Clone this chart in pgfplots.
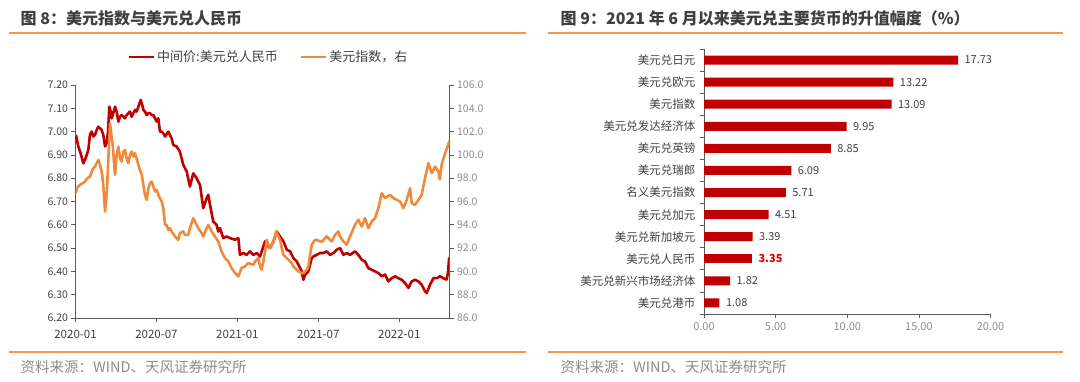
\documentclass[border=0pt]{standalone}
\usepackage{fontspec}
\setmainfont{Noto Sans CJK SC}
\usepackage{pgfplots}
\pgfplotsset{compat=1.18}
\definecolor{cnred}{HTML}{C00000}
\definecolor{cnorange}{HTML}{EF8A3C}
\definecolor{hdr}{HTML}{F5964F}
\definecolor{ttl}{HTML}{3F3F3F}
\definecolor{txt}{HTML}{404040}
\definecolor{gry}{HTML}{8C8C8C}
\definecolor{axl}{HTML}{595959}
\begin{document}
\begin{tikzpicture}
\begin{scope}[x=1pt,y=1pt]
\useasboundingbox (0,0) rectangle (1080,-381);
\node[anchor=west,inner sep=0,text=ttl,font=\fontsize{16}{16}\selectfont\bfseries] at (20.5,-18) {图 8：美元指数与美元兑人民币};
\node[anchor=west,inner sep=0,text=ttl,font=\fontsize{16}{16}\selectfont\bfseries] at (560.5,-18) {图 9：2021 年 6 月以来美元兑主要货币的升值幅度（\%）};
\draw[hdr,line width=1.2] (9,-33) -- (526,-33);
\draw[hdr,line width=1.2] (548,-33) -- (1063,-33);
\draw[hdr,line width=1.2] (9,-352) -- (526,-352);
\draw[hdr,line width=1.2] (548,-352) -- (1063,-352);
\node[anchor=west,inner sep=0,text=gry,font=\fontsize{14.5}{14.5}\selectfont] at (20.5,-367) {资料来源：WIND、天风证券研究所};
\node[anchor=west,inner sep=0,text=gry,font=\fontsize{14.5}{14.5}\selectfont] at (560.5,-367) {资料来源：WIND、天风证券研究所};
\end{scope}

% ---------- left chart ----------
\begin{axis}[at={(75.5pt,-318pt)},anchor=south west,width=374.1pt,height=233pt,scale only axis,
  xmin=0,xmax=27.73,ymin=6.2,ymax=7.2,
  axis x line*=bottom,axis y line*=left,
  axis line style={-,axl,line width=1pt},
  xtick={0,6,12,18,24},xticklabels={2020-01,2020-07,2021-01,2021-07,2022-01},
  ytick={6.2,6.3,6.4,6.5,6.6,6.7,6.8,6.9,7.0,7.1,7.2},
  yticklabel style={/pgf/number format/fixed,/pgf/number format/fixed zerofill,/pgf/number format/precision=2},
  /pgf/number format/assume math mode=true,
  tick align=outside,major tick length=4pt,
  tick style={axl,line width=0.8pt},
  yticklabel style={font=\fontsize{10.5}{10.5}\selectfont,text=txt},
  xticklabel style={font=\fontsize{11.5}{11.5}\selectfont,text=txt,yshift=-5pt},
]
\addplot[cnred,line width=2.6pt,line join=round] coordinates {
(0.03,6.986)(0.21,6.936)(0.38,6.907)(0.58,6.864)(0.70,6.879)(0.83,6.900)(0.95,6.921)(1.07,6.986)(1.20,7.000)(1.32,6.979)(1.45,6.986)(1.57,7.007)(1.69,7.021)(1.82,7.014)(1.94,7.007)(2.06,6.986)(2.19,6.936)(2.31,6.950)(2.41,7.000)(2.51,7.107)(2.61,7.086)(2.68,7.057)(2.80,7.079)(2.93,7.107)(3.05,7.086)(3.18,7.043)(3.30,7.064)(3.42,7.071)(3.55,7.064)(3.67,7.057)(3.79,7.071)(3.92,7.079)(4.04,7.086)(4.16,7.064)(4.29,7.079)(4.41,7.093)(4.53,7.086)(4.66,7.107)(4.83,7.136)(4.95,7.114)(5.03,7.093)(5.15,7.086)(5.28,7.071)(5.40,7.079)(5.52,7.079)(5.65,7.071)(5.77,7.071)(5.89,7.057)(6.02,7.043)(6.14,7.057)(6.26,7.000)(6.39,7.000)(6.51,6.993)(6.64,6.979)(6.88,7.000)(7.12,6.971)(7.25,6.943)(7.50,6.936)(7.74,6.914)(7.99,6.857)(8.24,6.829)(8.48,6.764)(8.73,6.821)(8.98,6.800)(9.23,6.771)(9.47,6.671)(9.72,6.714)(9.84,6.729)(9.97,6.686)(10.21,6.614)(10.46,6.600)(10.58,6.571)(10.71,6.586)(10.95,6.543)(11.20,6.550)(11.45,6.543)(11.82,6.536)(12.07,6.543)(12.19,6.471)(12.44,6.479)(12.68,6.471)(12.93,6.486)(13.18,6.471)(13.43,6.479)(13.68,6.464)(14.05,6.529)(14.18,6.514)(14.42,6.500)(14.67,6.529)(14.92,6.571)(15.16,6.550)(15.41,6.529)(15.66,6.493)(15.91,6.486)(16.15,6.457)(16.40,6.443)(16.65,6.414)(16.77,6.400)(16.89,6.364)(17.02,6.386)(17.26,6.400)(17.51,6.457)(17.63,6.464)(17.88,6.471)(18.13,6.479)(18.38,6.479)(18.62,6.486)(18.87,6.471)(19.12,6.479)(19.36,6.493)(19.61,6.500)(19.86,6.471)(20.10,6.479)(20.35,6.471)(20.72,6.486)(20.97,6.471)(21.22,6.450)(21.46,6.443)(21.71,6.414)(21.96,6.407)(22.20,6.400)(22.45,6.393)(22.70,6.379)(22.95,6.386)(23.19,6.357)(23.44,6.371)(23.69,6.379)(23.93,6.371)(24.18,6.364)(24.43,6.350)(24.68,6.329)(24.92,6.357)(25.17,6.364)(25.42,6.357)(25.66,6.343)(25.91,6.314)(26.03,6.307)(26.28,6.343)(26.53,6.371)(26.78,6.371)(27.02,6.379)(27.30,6.370)(27.50,6.365)(27.60,6.390)(27.70,6.460)
};
\end{axis}
\begin{axis}[at={(75.5pt,-318pt)},anchor=south west,width=374.1pt,height=233pt,scale only axis,
  xmin=0,xmax=27.73,ymin=86,ymax=106,
  axis x line=none,axis y line*=right,
  axis line style={-,axl,line width=1pt},
  ytick={86,88,90,92,94,96,98,100,102,104,106},
  yticklabel style={/pgf/number format/fixed,/pgf/number format/fixed zerofill,/pgf/number format/precision=1},
  /pgf/number format/assume math mode=true,
  tick align=outside,major tick length=4pt,
  tick style={axl,line width=0.8pt},
  yticklabel style={font=\fontsize{10.5}{10.5}\selectfont,text=gry},
  legend style={at={(0.516,1.12)},anchor=center,draw=none,fill=none,
    legend columns=2,font=\fontsize{13}{13}\selectfont,text=txt,
    /tikz/every even column/.append style={column sep=20pt}},
  legend image code/.code={\draw[#1] (0pt,0pt) -- (25pt,0pt);},
]
\addlegendimage{cnred,line width=2.6pt}
\addlegendentry{中间价:美元兑人民币}
\addplot[cnorange,line width=2.6pt,line join=round] coordinates {
(0.03,96.71)(0.09,97.14)(0.33,97.43)(0.53,97.57)(0.70,97.71)(0.88,98.00)(1.07,98.14)(1.20,98.57)(1.32,98.86)(1.45,99.00)(1.57,99.29)(1.69,99.57)(1.82,99.14)(1.94,98.57)(2.06,97.43)(2.19,95.14)(2.31,96.57)(2.36,97.71)(2.46,100.29)(2.56,102.71)(2.66,101.71)(2.76,100.86)(2.85,99.43)(2.93,98.29)(3.05,100.00)(3.18,100.71)(3.30,99.71)(3.42,99.43)(3.55,100.29)(3.67,100.43)(3.79,99.71)(3.92,99.29)(4.04,100.00)(4.16,100.29)(4.29,99.86)(4.41,100.14)(4.53,99.71)(4.66,99.14)(4.78,98.71)(4.91,98.29)(5.03,97.43)(5.15,96.57)(5.28,96.14)(5.40,97.14)(5.52,97.57)(5.65,97.71)(5.77,97.29)(5.89,96.86)(6.02,97.00)(6.14,96.57)(6.26,96.29)(6.39,96.00)(6.51,95.43)(6.64,94.00)(6.75,94.00)(6.88,93.57)(7.00,93.71)(7.12,93.43)(7.37,93.00)(7.62,92.71)(7.74,93.29)(7.99,93.43)(8.11,93.14)(8.36,93.14)(8.48,93.71)(8.73,94.57)(8.85,94.29)(9.10,93.71)(9.35,93.29)(9.47,93.00)(9.72,93.71)(9.84,94.00)(10.09,93.43)(10.34,93.00)(10.58,92.57)(10.83,91.71)(11.08,91.14)(11.33,90.86)(11.57,90.29)(11.82,89.86)(12.07,89.57)(12.31,90.29)(12.56,90.43)(12.81,90.71)(13.19,90.57)(13.31,90.86)(13.56,91.14)(13.68,90.43)(13.80,90.14)(13.93,90.86)(14.05,91.71)(14.18,92.71)(14.30,92.29)(14.42,92.00)(14.67,92.57)(14.87,93.43)(15.04,93.00)(15.16,92.71)(15.29,92.00)(15.41,91.43)(15.66,91.14)(15.78,91.00)(16.03,90.71)(16.15,90.43)(16.40,90.14)(16.52,90.00)(16.77,89.86)(16.89,89.86)(17.02,90.00)(17.14,90.14)(17.26,90.43)(17.39,91.43)(17.51,92.29)(17.76,92.71)(17.88,92.71)(18.13,92.57)(18.25,92.57)(18.50,92.86)(18.62,93.00)(18.87,92.71)(18.99,92.57)(19.24,93.14)(19.49,93.43)(19.61,93.00)(19.86,92.57)(20.10,92.29)(20.35,93.00)(20.72,94.00)(20.97,94.43)(21.22,93.86)(21.46,94.57)(21.71,93.71)(21.96,94.29)(22.20,94.57)(22.45,95.43)(22.70,96.71)(22.95,96.29)(23.32,96.57)(23.56,96.29)(23.81,96.14)(24.06,96.00)(24.31,95.43)(24.55,96.14)(24.80,97.14)(24.92,95.86)(25.17,95.71)(25.42,96.14)(25.66,96.57)(25.91,98.00)(26.16,99.29)(26.41,98.43)(26.65,99.00)(26.90,98.57)(27.00,97.90)(27.15,99.20)(27.30,99.80)(27.45,100.30)(27.60,100.80)(27.72,101.20)
};
\addlegendentry{美元指数，右}
\end{axis}

% ---------- right chart ----------
\begin{axis}[at={(704pt,-314pt)},anchor=south west,width=286.6pt,height=265pt,scale only axis,
  xbar,bar width=9pt,bar shift=0pt,
  xmin=0,xmax=20,ymin=-0.5,ymax=11.5,y dir=reverse,
  axis x line*=bottom,axis y line*=left,
  axis line style={-,axl,line width=1pt},
  xtick={0,5,10,15,20},
  xticklabel style={/pgf/number format/fixed,/pgf/number format/fixed zerofill,/pgf/number format/precision=2},
  /pgf/number format/assume math mode=true,
  xticklabel style={font=\fontsize{11}{11}\selectfont,text=gry,yshift=-1pt},
  ytick={-0.5,0.5,1.5,2.5,3.5,4.5,5.5,6.5,7.5,8.5,9.5,10.5,11.5},
  yticklabels={},
  extra y ticks={0,1,2,3,4,5,6,7,8,9,10,11},
  extra y tick labels={美元兑日元,美元兑欧元,美元指数,美元兑发达经济体,美元兑英镑,美元兑瑞郎,名义美元指数,美元兑加元,美元兑新加坡元,美元兑人民币,美元兑新兴市场经济体,美元兑港币},
  extra y tick style={major tick length=0pt,
    yticklabel style={font=\fontsize{11.5}{11.5}\selectfont,text=txt,xshift=-5pt}},
  tick align=outside,major tick length=4pt,
  tick style={axl,line width=0.8pt},
  nodes near coords={\pgfmathprintnumber[fixed,fixed zerofill,precision=2,assume math mode=true]{\pgfplotspointmeta}},
  every node near coord/.append style={font=\fontsize{11}{11}\selectfont,text=txt,anchor=west,xshift=3pt},
]
\addplot[fill=cnred,draw=none] coordinates {(17.73,0)(13.22,1)(13.09,2)(9.95,3)(8.85,4)(6.09,5)(5.71,6)(4.51,7)(3.39,8)(1.82,10)(1.08,11)};
\addplot[fill=cnred,draw=none,every node near coord/.append style={text=red!90!black,font=\fontsize{11}{11}\selectfont\bfseries}] coordinates {(3.35,9)};
\end{axis}
\end{tikzpicture}
\end{document}
